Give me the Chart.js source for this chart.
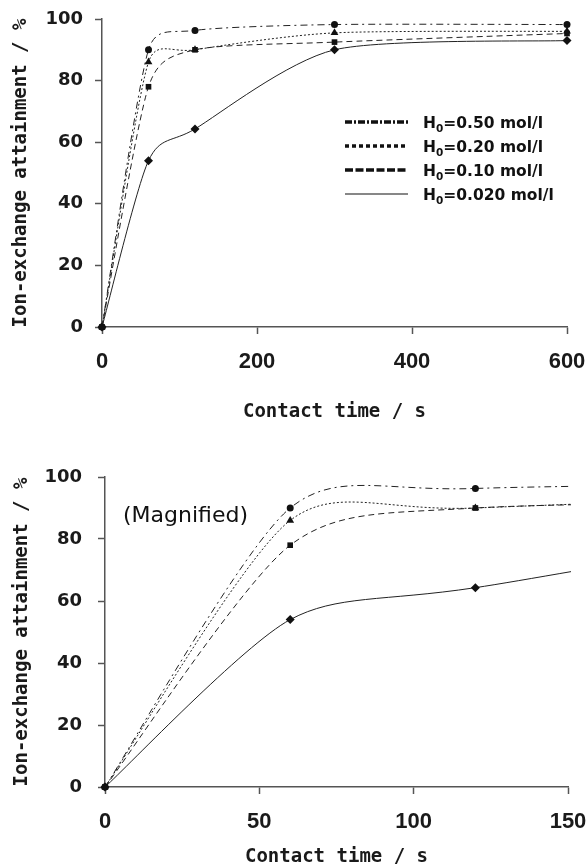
<!DOCTYPE html>
<html>
<head>
<meta charset="utf-8">
<script src="https://cdn.jsdelivr.net/npm/chart.js@4.4.1/dist/chart.umd.min.js"></script>
<style>
  html, body { margin: 0; padding: 0; background: #fff; }
  body { width: 587px; height: 867px; position: relative; overflow: hidden; }
  .panel { position: absolute; left: 0; width: 587px; }
  #panel-full { top: 0; height: 430px; }
  #panel-zoom { top: 440px; height: 427px; }
</style>
</head>
<body>
<div class="panel" id="panel-full"><canvas id="chart-full"></canvas></div>
<div class="panel" id="panel-zoom"><canvas id="chart-zoom"></canvas></div>
<script>
// contact time (s) and ion-exchange attainment (%) for each initial H0
var contactTime = [0, 60, 120, 300, 600];
var attain050 = [0, 90, 96.3, 98.2, 98.2];
var attain020 = [0, 86, 90, 95.5, 96];
var attain010 = [0, 78, 90, 92.5, 95.3];
var attain0020 = [0, 54, 64.3, 90, 93];
var concentrations = ["0.50", "0.20", "0.10", "0.020"];

var yTicks = [0, 20, 40, 60, 80, 100];
var xTicksFull = [0, 200, 400, 600];
var xTicksZoom = [0, 50, 100, 150];

// line / marker look per series (same order as concentrations)
var lineStyles = [
  { dash: [7, 4, 2, 4], legendDash: [7, 2, 2, 2], legendWidth: 3.5, point: "circle", radius: 3.5 },
  { dash: [2, 2], legendDash: [4, 3], legendWidth: 3.5, point: "triangle", radius: 4.5 },
  { dash: [6, 4], legendDash: [8, 2.5], legendWidth: 3.5, point: "rect", radius: 4 },
  { dash: [], legendDash: [], legendWidth: 1.2, point: "rectRot", radius: 4.5 },
];

function buildDatasets(clip) {
  var series = [attain050, attain020, attain010, attain0020];
  return series.map(function (vals, i) {
    var st = lineStyles[i];
    return {
      label: "H\u2080=" + concentrations[i] + " mol/l",
      conc: concentrations[i],
      data: contactTime.map(function (t, j) {
        return { x: t, y: vals[j] };
      }),
      borderColor: "#222",
      backgroundColor: "#111",
      borderWidth: 1,
      borderDash: st.dash,
      pointStyle: st.point,
      pointRadius: st.radius,
      pointBorderWidth: 0,
      pointBackgroundColor: "#111",
      tension: 0.4,
      fill: false,
      clip: clip,
    };
  });
}

// spreadsheet-style smoothing: handles parallel to the neighbour chord,
// each handle kept shorter than half of its own segment
var smoothCurve = {
  id: "smoothCurve",
  beforeDatasetDraw: function (chart, args, opts) {
    var meta = args.meta;
    meta.dataset.updateControlPoints(chart.chartArea, meta.iScale.axis);
    var pts = meta.data;
    var k = opts.factor;
    for (var i = 0; i < pts.length; i++) {
      var p = pts[i];
      var prev = pts[i - 1] || p;
      var next = pts[i + 1] || p;
      var dx = (next.x - prev.x) * k;
      var dy = (next.y - prev.y) * k;
      var h = Math.hypot(dx, dy) || 1;
      var segPrev = Math.hypot(p.x - prev.x, p.y - prev.y) * opts.cap;
      var segNext = Math.hypot(next.x - p.x, next.y - p.y) * opts.cap;
      var sIn = Math.min(1, segPrev / h);
      var sOut = Math.min(1, segNext / h);
      p.cp1x = p.x - dx * sIn;
      p.cp1y = p.y - dy * sIn;
      p.cp2x = p.x + dx * sOut;
      p.cp2y = p.y + dy * sOut;
    }
  },
};

// legend drawn inside the plot, with subscript 0 in H0
var seriesLegend = {
  id: "seriesLegend",
  afterDatasetsDraw: function (chart, args, opts) {
    if (!opts.display) return;
    var ctx = chart.ctx;
    ctx.save();
    chart.data.datasets.forEach(function (ds, i) {
      var st = lineStyles[i];
      var y = opts.y + i * opts.rowHeight;
      ctx.beginPath();
      ctx.setLineDash(st.legendDash);
      ctx.lineWidth = st.legendWidth;
      ctx.strokeStyle = "#111";
      ctx.moveTo(opts.x, y);
      ctx.lineTo(opts.x + opts.lineLength, y);
      ctx.stroke();

      ctx.setLineDash([]);
      ctx.fillStyle = "#111";
      ctx.textBaseline = "alphabetic";
      var tx = opts.x + opts.lineLength + opts.gap;
      var base = y + 6;
      ctx.font = "bold 15.5px 'DejaVu Sans'";
      ctx.fillText("H", tx, base);
      tx += ctx.measureText("H").width;
      ctx.font = "bold 10.5px 'DejaVu Sans'";
      ctx.fillText("0", tx, base + 3.5);
      tx += ctx.measureText("0").width;
      ctx.font = "bold 15.5px 'DejaVu Sans'";
      ctx.fillText("=" + ds.conc + " mol/l", tx, base);
    });
    ctx.restore();
  },
};

var panelNote = {
  id: "panelNote",
  afterDraw: function (chart, args, opts) {
    if (!opts.text) return;
    var ctx = chart.ctx;
    ctx.save();
    ctx.font = "22px 'DejaVu Sans'";
    ctx.fillStyle = "#111";
    ctx.textBaseline = "middle";
    ctx.fillText(opts.text, opts.x, opts.y);
    ctx.restore();
  },
};

function makeChart(canvasId, cfg) {
  var ctx = document.getElementById(canvasId).getContext("2d");
  return new Chart(ctx, {
    type: "line",
    data: { datasets: buildDatasets(cfg.clip) },
    plugins: [smoothCurve, seriesLegend, panelNote],
    options: {
      responsive: true,
      maintainAspectRatio: false,
      animation: false,
      layout: { padding: { top: cfg.padTop, right: cfg.padRight, left: 0, bottom: 0 } },
      plugins: {
        legend: { display: false },
        tooltip: { enabled: false },
        smoothCurve: { factor: 0.125, cap: 0.5 },
        seriesLegend: cfg.legend,
        panelNote: cfg.note,
      },
      scales: {
        x: {
          type: "linear",
          min: 0,
          max: cfg.xTicks[cfg.xTicks.length - 1],
          afterBuildTicks: function (scale) {
            scale.ticks = cfg.xTicks.map(function (v) { return { value: v }; });
          },
          afterFit: function (scale) {
            scale.height = cfg.xHeight;
            scale.paddingLeft = 0;
            scale.paddingRight = 0;
          },
          border: { display: true, color: "#555", width: 1.5 },
          grid: { drawOnChartArea: false, drawTicks: true, tickLength: 7, tickColor: "#555", tickWidth: 1.5 },
          ticks: {
            padding: 15,
            color: "#1a1a1a",
            maxRotation: 0,
            font: { family: "Liberation Sans", size: 22, weight: "bold" },
          },
          title: {
            display: true,
            text: "Contact time / s",
            color: "#1a1a1a",
            font: { family: "DejaVu Sans Mono", size: 19, weight: "bold", lineHeight: 1 },
            padding: { top: 0, bottom: cfg.xTitlePad },
          },
        },
        y: {
          min: 0,
          max: 100,
          afterBuildTicks: function (scale) {
            scale.ticks = yTicks.map(function (v) { return { value: v }; });
          },
          afterFit: function (scale) {
            scale.width = cfg.yWidth;
            scale.paddingTop = 0;
            scale.paddingBottom = 0;
          },
          border: { display: true, color: "#555", width: 1.5 },
          grid: { drawOnChartArea: false, drawTicks: true, tickLength: 7, tickColor: "#555", tickWidth: 1.5 },
          ticks: {
            padding: cfg.yTickPad,
            color: "#1a1a1a",
            font: { family: "DejaVu Sans", size: 18, weight: "bold" },
          },
          title: {
            display: true,
            text: "Ion-exchange attainment / %",
            color: "#1a1a1a",
            font: { family: "DejaVu Sans Mono", size: 19, weight: "bold", lineHeight: 1 },
            padding: { top: cfg.yTitlePad, bottom: 0 },
          },
        },
      },
    },
  });
}

// full range, 0-600 s
makeChart("chart-full", {
  xTicks: xTicksFull,
  padTop: 19,
  padRight: 20,
  xHeight: 103,
  yWidth: 102,
  yTickPad: 12,
  xTitlePad: 8.5,
  yTitlePad: 11.5,
  clip: 10,
  legend: { display: true, x: 345, y: 122, rowHeight: 24, lineLength: 63, gap: 15 },
  note: {},
});

// magnified, 0-150 s
makeChart("chart-zoom", {
  xTicks: xTicksZoom,
  padTop: 37,
  padRight: 19,
  xHeight: 80,
  yWidth: 105,
  yTickPad: 16,
  xTitlePad: 0,
  yTitlePad: 12.5,
  clip: { left: 10, top: 10, right: 3, bottom: 10 },
  legend: { display: false },
  note: { text: "(Magnified)", x: 123, y: 76 },
});
</script>
</body>
</html>
